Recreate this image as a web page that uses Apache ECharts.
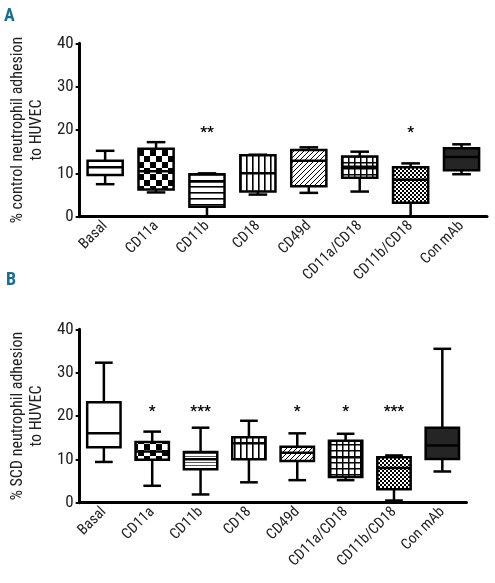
<!DOCTYPE html>
<html><head><meta charset="utf-8">
<script src="https://cdn.jsdelivr.net/npm/echarts@6/dist/echarts.min.js"></script>
<style>html,body{margin:0;padding:0;background:#fff}#c{width:495px;height:583px}</style>
</head><body><div id="c"></div>
<script>
const categories = ['Basal','CD11a','CD11b','CD18','CD49d','CD11a/CD18','CD11b/CD18','Con mAb'];
// [min, Q1, median, Q3, max]
const controlBoxes = [
  [7.5, 9.6, 11.4, 12.9, 15.2],
  [5.6, 6.3, 10.5, 15.7, 17.2],
  [0.0, 2.3, 8.1, 9.8, 10.0],
  [5.1, 5.8, 10.0, 14.2, 14.3],
  [5.5, 7.0, 12.9, 15.4, 16.0],
  [5.8, 9.0, 11.5, 13.9, 15.0],
  [0.0, 3.2, 8.5, 11.4, 12.3],
  [9.8, 10.7, 13.8, 15.8, 16.7]
];
const scdBoxes = [
  [9.4, 12.8, 16.0, 23.2, 32.3],
  [3.9, 9.9, 11.8, 14.0, 16.4],
  [1.9, 7.7, 10.0, 11.7, 17.3],
  [4.7, 10.0, 13.7, 15.1, 18.9],
  [5.2, 9.6, 11.5, 12.9, 16.0],
  [5.2, 5.9, 10.5, 14.3, 15.9],
  [0.5, 3.1, 8.0, 10.5, 10.9],
  [7.2, 10.1, 13.2, 17.3, 35.5]
];
const controlSig = ['', '', '**', '', '', '', '*', ''];
const scdSig = ['', '*', '***', '', '*', '*', '***', ''];
const controlSigLevel = 19.3;
const scdSigLevel = 20.8;
const yMin = 0, yMax = 40, yStep = 10;
const controlTitle = '% control neutrophil adhesion\nto HUVEC';
const scdTitle = '% SCD neutrophil adhesion\nto HUVEC';

const FONT = "'Roboto Condensed', 'DejaVu Sans Condensed', sans-serif";

function makePattern(w, h, draw) {
  const c = document.createElement('canvas');
  c.width = w; c.height = h;
  const g = c.getContext('2d');
  g.fillStyle = '#fff'; g.fillRect(0, 0, w, h);
  g.fillStyle = '#000'; g.strokeStyle = '#000';
  draw(g);
  return { image: c, repeat: 'repeat' };
}
const P = {
  white: '#ffffff',
  checker: makePattern(12, 12, g => { g.fillRect(0,0,6,6); g.fillRect(6,6,6,6); }),
  hlines: makePattern(4, 6, g => { g.fillRect(0,0,4,1.6); }),
  hlinesFine: makePattern(4, 3, g => { g.fillStyle='#555'; g.fillRect(0,0,4,1); }),
  vlines: makePattern(6, 4, g => { g.fillRect(0,0,1.6,4); }),
  diag: makePattern(5, 5, g => { g.lineWidth = 1; g.beginPath(); g.moveTo(-1,6); g.lineTo(6,-1); g.moveTo(-1,1); g.lineTo(1,-1); g.moveTo(4,6); g.lineTo(6,4); g.stroke(); }),
  grid: makePattern(6, 6, g => { g.fillRect(0,0,6,1.5); g.fillRect(0,0,1.5,6); }),
  fine: makePattern(4, 4, g => { g.fillRect(0,0,2,2); g.fillRect(2,2,2,2); }),
  dark: '#252525'
};
const controlFills = [P.white, P.checker, P.hlines, P.vlines, P.diag, P.grid, P.fine, P.dark];
const scdFills = [P.white, P.checker, P.hlinesFine, P.vlines, P.diag, P.grid, P.fine, P.dark];

function makeRender(fills, sigs, sigLevel) {
  return function (params, api) {
    const i = api.value(0);
    const v = [api.value(1), api.value(2), api.value(3), api.value(4), api.value(5)];
    const x = api.coord([i, 0])[0];
    const y = v.map(val => api.coord([i, val])[1]);
    const bw = api.size([1, 0])[0] * 0.69;
    const cw = bw * 0.53;
    const ls = { stroke: '#000', lineWidth: 2.5 };
    const children = [
      { type: 'line', shape: { x1: x, y1: y[4], x2: x, y2: y[3] }, style: ls },
      { type: 'line', shape: { x1: x, y1: y[1], x2: x, y2: y[0] }, style: ls },
      { type: 'line', shape: { x1: x - cw/2, y1: y[4], x2: x + cw/2, y2: y[4] }, style: ls },
      { type: 'line', shape: { x1: x - cw/2, y1: y[0], x2: x + cw/2, y2: y[0] }, style: ls },
      { type: 'rect', shape: { x: x - bw/2, y: y[3], width: bw, height: y[1] - y[3] },
        style: { fill: fills[params.dataIndex], stroke: '#000', lineWidth: 2.5 } },
      { type: 'line', shape: { x1: x - bw/2, y1: y[2], x2: x + bw/2, y2: y[2] }, style: ls }
    ];
    const s = sigs[params.dataIndex];
    if (s) {
      const p = api.coord([i, sigLevel]);
      children.push({ type: 'text', x: p[0], y: p[1],
        style: { text: s, fill: '#000', font: 'bold 15px ' + FONT, textAlign: 'center', textVerticalAlign: 'middle' } });
    }
    return { type: 'group', children };
  };
}

function yAxisCfg(gridIndex, name) {
  return {
    gridIndex, type: 'value', min: yMin, max: yMax, interval: yStep,
    name, nameLocation: 'middle', nameGap: 31, nameRotate: 90,
    nameTextStyle: { fontFamily: FONT, fontSize: 16, color: '#222', lineHeight: 19 },
    axisLine: { show: true, lineStyle: { color: '#000', width: 3 } },
    axisTick: { show: true, length: 4, lineStyle: { color: '#000', width: 2 } },
    axisLabel: { fontFamily: FONT, fontSize: 17, color: '#222', margin: 6 },
    splitLine: { show: false }
  };
}
function xAxisCfg(gridIndex) {
  return {
    gridIndex, type: 'category', data: categories, boundaryGap: true,
    axisLine: { show: true, lineStyle: { color: '#000', width: 3 } },
    axisTick: { show: false },
    axisLabel: { fontFamily: FONT, fontSize: 15, color: '#222', rotate: 45, margin: 7, interval: 0 }
  };
}

const chart = echarts.init(document.getElementById('c'), null, { renderer: 'canvas' });
chart.setOption({
  animation: false,
  backgroundColor: '#fff',
  title: [
    { text: 'A', left: 4, top: 7, padding: 0, textStyle: { color: '#1c6c8e', fontFamily: FONT, fontSize: 18, fontWeight: 'bold' } },
    { text: 'B', left: 6, top: 271, padding: 0, textStyle: { color: '#1c6c8e', fontFamily: FONT, fontSize: 18, fontWeight: 'bold' } }
  ],
  grid: [
    { left: 73.5, top: 43.3, width: 413.5, height: 173.4 },
    { left: 73.5, top: 329.3, width: 393, height: 173.4 }
  ],
  xAxis: [xAxisCfg(0), xAxisCfg(1)],
  yAxis: [yAxisCfg(0, controlTitle), yAxisCfg(1, scdTitle)],
  series: [
    { type: 'custom', xAxisIndex: 0, yAxisIndex: 0,
      renderItem: makeRender(controlFills, controlSig, controlSigLevel),
      encode: { x: 0, y: [1,2,3,4,5] },
      data: controlBoxes.map((b, i) => [i, ...b]) },
    { type: 'custom', xAxisIndex: 1, yAxisIndex: 1,
      renderItem: makeRender(scdFills, scdSig, scdSigLevel),
      encode: { x: 0, y: [1,2,3,4,5] },
      data: scdBoxes.map((b, i) => [i, ...b]) }
  ]
});
</script>
</body></html>
